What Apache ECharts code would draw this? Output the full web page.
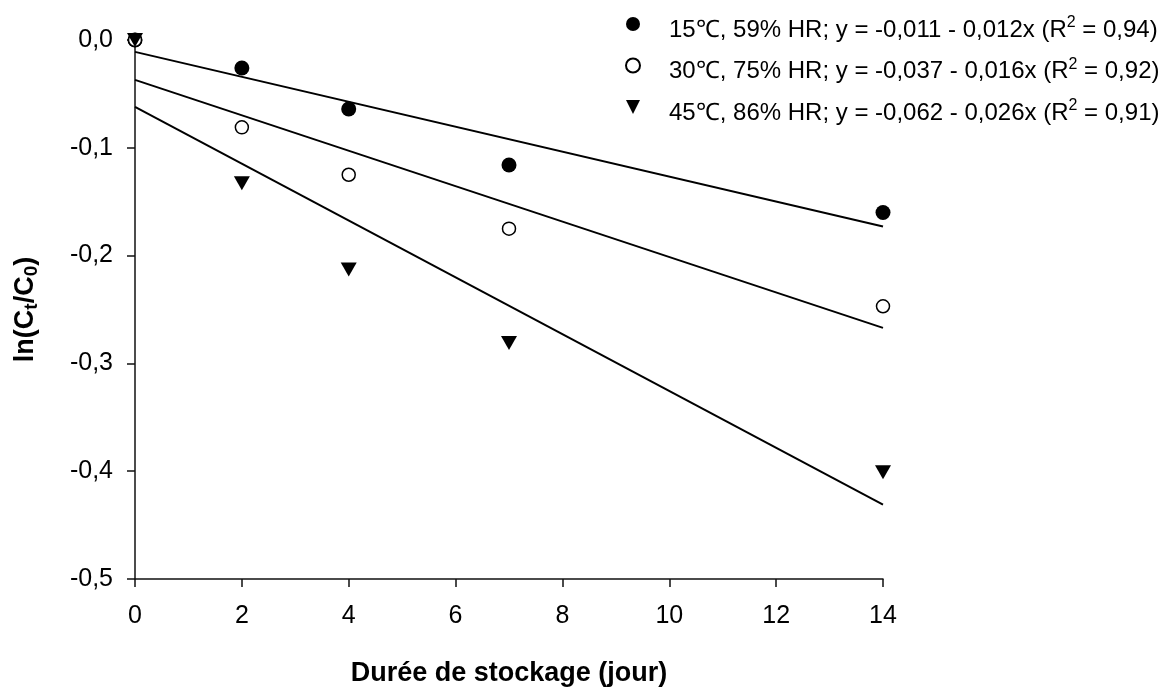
<!DOCTYPE html>
<html><head><meta charset="utf-8">
<script src="https://cdn.jsdelivr.net/npm/echarts@6/dist/echarts.min.js"></script>
<style>html,body{margin:0;padding:0;background:#fff}#c{width:1174px;height:688px}</style>
</head><body><div id="c"></div>
<script>
var days = [0, 2, 4, 7, 14];
var s15 = [0, -0.026, -0.064, -0.116, -0.160];
var s30 = [0, -0.081, -0.125, -0.175, -0.247];
var s45 = [0, -0.133, -0.213, -0.281, -0.401];
// regression line end points [x, y]
var fit15 = [[0, -0.011], [14, -0.173]];
var fit30 = [[0, -0.037], [14, -0.267]];
var fit45 = [[0, -0.062], [14, -0.431]];
var names = [
  '15\u2103, 59% HR; y = -0,011 - 0,012x (R{sup|2} = 0,94)',
  '30\u2103, 75% HR; y = -0,037 - 0,016x (R{sup|2} = 0,92)',
  '45\u2103, 86% HR; y = -0,062 - 0,026x (R{sup|2} = 0,91)'
];
var xTicks = [0, 2, 4, 6, 8, 10, 12, 14];
var yTicks = [0, -0.1, -0.2, -0.3, -0.4, -0.5];

function pairs(xs, ys){ return xs.map(function(x,i){return [x, ys[i]];}); }
var FONT = 'Liberation Sans, Arial, sans-serif';
var chart = echarts.init(document.getElementById('c'));
var lineStyle = {color:'#000', width:2};
chart.setOption({
  animation:false,
  backgroundColor:'#fff',
  textStyle:{fontFamily:FONT},
  grid:{left:135, top:40, width:748, height:539, containLabel:false, outerBoundsMode:'none'},
  legend:{
    orient:'vertical', left:620, top:-1, itemGap:0.5,
    itemWidth:14, itemHeight:14,
    data:names,
    textStyle:{fontFamily:FONT, fontSize:24, lineHeight:28, color:'#000', padding:[12,0,0,24],
      rich:{sup:{fontSize:16, lineHeight:28, padding:[0,0,14,0], fontFamily:FONT, color:'#000'}}}
  },
  xAxis:{
    type:'value', min:0, max:14, interval:2,
    name:'Durée de stockage (jour)', nameLocation:'middle', nameGap:81,
    nameTextStyle:{fontFamily:FONT, fontSize:27, fontWeight:'bold', color:'#000'},
    axisLine:{show:true, onZero:false, lineStyle:{color:'#111', width:1.5}},
    axisTick:{show:true, length:8, inside:false, lineStyle:{color:'#111', width:1.5}},
    axisLabel:{fontFamily:FONT, fontSize:25, color:'#000', margin:25,
      formatter:function(v){return xTicks.indexOf(v)>=0 ? String(v) : '';}},
    splitLine:{show:false}
  },
  yAxis:{
    type:'value', min:-0.5, max:0, interval:0.1,
    name:'ln(C{sub|t}/C{sub|0})', nameLocation:'middle', nameGap:94, nameRotate:90,
    nameTextStyle:{fontFamily:FONT, fontSize:27, fontWeight:'bold', color:'#000',
      rich:{sub:{fontFamily:FONT, fontSize:19, fontWeight:'bold', padding:[12,0,0,0], color:'#000'}}},
    axisLine:{show:true, onZero:false, lineStyle:{color:'#111', width:1.5}},
    axisTick:{show:true, length:8, lineStyle:{color:'#111', width:1.5}},
    axisLabel:{fontFamily:FONT, fontSize:25, color:'#000', margin:22,
      formatter:function(v){
        for (var i=0;i<yTicks.length;i++){ if (Math.abs(v-yTicks[i])<1e-9){ var t=Math.abs(yTicks[i]).toFixed(1).replace('.',','); return (yTicks[i]<0?'-':'')+t; } }
        return '';
      }},
    splitLine:{show:false}
  },
  series:[
    {type:'line', data:fit15, symbol:'none', lineStyle:lineStyle, silent:true, z:1},
    {type:'line', data:fit30, symbol:'none', lineStyle:lineStyle, silent:true, z:1},
    {type:'line', data:fit45, symbol:'none', lineStyle:lineStyle, silent:true, z:1},
    {name:names[0], type:'scatter', data:pairs(days, s15), symbol:'circle', symbolSize:15,
      itemStyle:{color:'#000', borderColor:'#000', borderWidth:0, opacity:1}, z:3},
    {name:names[1], type:'scatter', data:pairs(days, s30), symbol:'circle', symbolSize:13,
      itemStyle:{color:'#fff', borderColor:'#000', borderWidth:1.5, opacity:1}, z:4},
    {name:names[2], type:'scatter', data:pairs(days, s45), symbol:'path://M0,0 L10,0 L5,10 Z', symbolSize:[16,14],
      itemStyle:{color:'#000', borderWidth:0, opacity:1}, z:5}
  ]
});
</script></body></html>
